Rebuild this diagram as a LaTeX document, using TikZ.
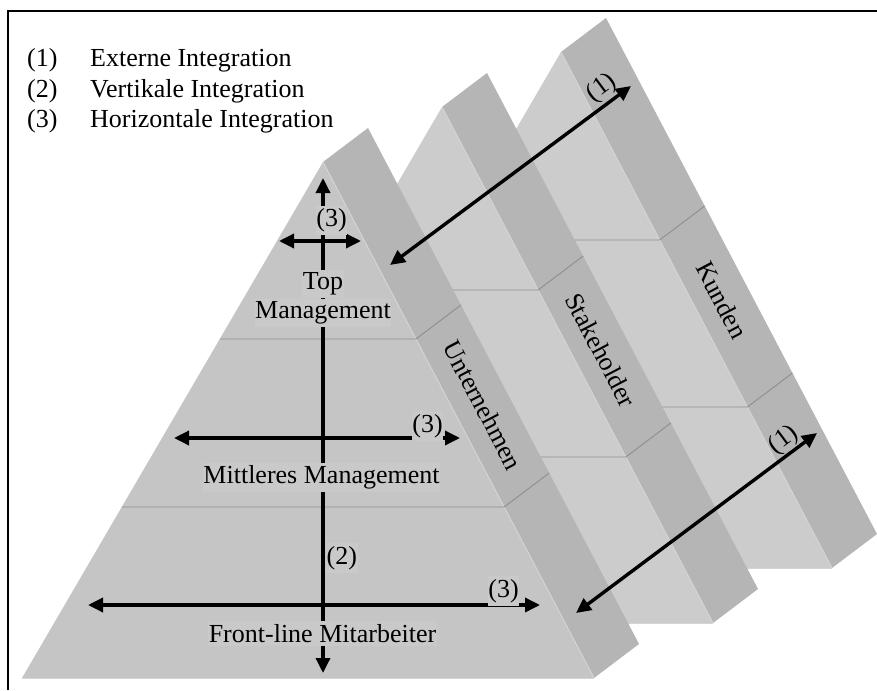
\documentclass[tikz,border=0pt]{standalone}
\usepackage{fontspec}
\setmainfont{Liberation Serif}
\usetikzlibrary{arrows.meta,calc}

\definecolor{frontU}{HTML}{C5C5C5}
\definecolor{frontB}{HTML}{CCCCCC}
\definecolor{sideC}{HTML}{B5B5B5}
\definecolor{divC}{HTML}{8E8E8E}
\definecolor{ridgeC}{HTML}{D4D4D4}
\definecolor{boxC}{HTML}{C9C9C9}

\begin{document}
\begin{tikzpicture}[x=1pt,y=-1pt,
  lbl/.style={font=\fontsize{26}{30}\selectfont, inner sep=0pt},
  boxlbl/.style={lbl, fill=boxC, inner xsep=0.5pt, inner ysep=3pt},
  legend/.style={lbl, anchor=base west},
  sidelbl/.style={lbl, rotate=-62.3},
  extlbl/.style={lbl, rotate=36.6},
  arr/.style={line width=3.4pt,
    {Triangle[length=15pt,width=14pt]}-{Triangle[length=15pt,width=14pt]}},
  divider/.style={divC, line width=0.9pt},
  ridge/.style={ridgeC, line width=1pt}]

\useasboundingbox (0,0) rectangle (877,690);
\fill[white] (0,0) rectangle (877,690);

% frame (only its top and left edges fall inside the page)
\draw[line width=2pt] (8,690) -- (8,11) -- (877,11);

% legend
\node[legend] (n1) at (27,67)  {(1)};
\node[legend] (l1) at (90,67)  {Externe Integration};
\node[legend] (n2) at (27,98)  {(2)};
\node[legend] (l2) at (90,98)  {Vertikale Integration};
\node[legend] (n3) at (27,128) {(3)};
\node[legend] (l3) at (90,128) {Horizontale Integration};

% three prisms, back to front: Kunden, Stakeholder, Unternehmen
\foreach \sx/\sy/\fc/\ta/\tb/\nm in
   {238/-110/frontB/0.3643/0.688/k,
    119/-55/frontB/0.3547/0.6783/s,
    0/0/frontU/0.343/0.6686/u}{
  \begin{scope}[shift={(\sx,\sy)}]
    \coordinate (\nm-apex) at (323,162);
    \coordinate (\nm-left) at (22,678);
    \coordinate (\nm-right) at (594,678);
    \coordinate (\nm-apexb) at (368,128);
    \coordinate (\nm-rightb) at (639,644);
    % slanted side face
    \fill[sideC] (\nm-apex) -- (\nm-right) -- (\nm-rightb) -- (\nm-apexb) -- cycle;
    % front face
    \fill[\fc] (\nm-left) -- (\nm-right) -- (\nm-apex) -- cycle;
    \draw[ridge] (\nm-apex) -- (\nm-right);
    \draw[ridge] (\nm-left) -- (\nm-right);
    % level dividers across front and side
    \draw[divider] ($(\nm-apex)!\ta!(\nm-left)$) -- ($(\nm-apex)!\ta!(\nm-right)$) -- ++(45,-34);
    \draw[divider] ($(\nm-apex)!\tb!(\nm-left)$) -- ($(\nm-apex)!\tb!(\nm-right)$) -- ++(45,-34);
  \end{scope}
}

% side labels
\node[sidelbl] (kun) at (722,300) {Kunden};
\node[sidelbl] (stk) at (601,350) {Stakeholder};
\node[sidelbl] (unt) at (483,405) {Unternehmen};

% arrow end points
\coordinate (vtop) at (323,178);
\coordinate (vbot) at (323,673);
\coordinate (h1l) at (279,241);
\coordinate (h1r) at (361,241);
\coordinate (h2l) at (174,438);
\coordinate (h2r) at (460,438);
\coordinate (h3l) at (88,605);
\coordinate (h3r) at (540,605);
\coordinate (e1s) at (390,265);
\coordinate (e1e) at (631,86);
\coordinate (e2s) at (576,613);
\coordinate (e2e) at (817,433);

% vertical integration
\draw[arr] (vtop) -- (vbot);
% horizontal integration
\draw[arr] (h1l) -- (h1r);
\draw[arr] (h2l) -- (h2r);
\draw[arr] (h3l) -- (h3r);
% external integration
\draw[arr] (e1s) -- (e1e);
\draw[arr] (e2s) -- (e2e);

% level labels
\node[boxlbl] (top3) at (331.5,220.5) {(3)};
\node[boxlbl] (top) at (323,284) {Top};
\node[boxlbl] (mgmt) at (323,313) {Management};
\node[boxlbl] (mid3) at (427.5,426) {(3)};
\node[boxlbl] (mittel) at (321.5,477.5) {Mittleres Management};
\node[boxlbl, anchor=west] (vert) at (326,558) {(2)};
\node[boxlbl] (bot3) at (503.5,591) {(3)};
\node[boxlbl] (front) at (322.5,633.5) {Front-line Mitarbeiter};

% external integration labels
\node[extlbl] (ext1) at (602,88) {(1)};
\node[extlbl] (ext2) at (784,440) {(1)};

\end{tikzpicture}
\end{document}
